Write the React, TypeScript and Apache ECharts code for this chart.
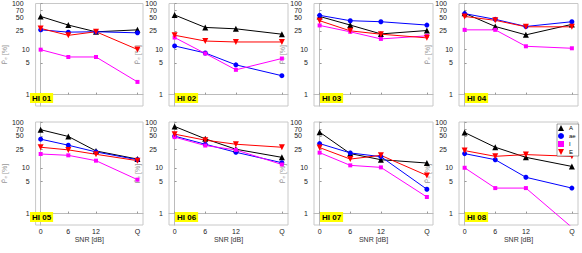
import React, { useEffect, useRef } from 'react';
import * as echarts from 'echarts';

const snrLabels = ['0', '6', '12', 'Q'];
const snrPositions = [0, 6, 12, 21];
const panelNames = ['HI 01', 'HI 02', 'HI 03', 'HI 04', 'HI 05', 'HI 06', 'HI 07', 'HI 08'];
const seriesNames = ['A', 'ae', 'I', 'E'];
const yTickValues = [1, 5, 10, 25, 50, 70, 100];

const valuesA = [
  [52, 33.6, 23.9, 26.4],
  [56, 29.8, 27.8, 21.2],
  [52, 33.6, 21.5, 25.5],
  [61, 31.3, 20.5, 34.8],
  [67.8, 48.3, 23.3, 15.5],
  [80, 42.9, 25.4, 16.9],
  [60, 20.4, 15, 12.7],
  [59, 28.1, 16.9, 10.7],
];
const valuesAe = [
  [26.4, 23.5, 24, 22.7],
  [11.7, 8.2, 4.5, 2.6],
  [55, 41.9, 39.8, 33.6],
  [60, 44.9, 31.3, 39.8],
  [42.2, 31.1, 22.2, 15],
  [49.1, 32.7, 21.8, 12.9],
  [33.8, 21.1, 17.5, 3.4],
  [20.4, 15, 6.2, 3.6],
];
const valuesI = [
  [9.7, 6.7, 6.7, 1.9],
  [17.9, 8, 3.5, 6.2],
  [33, 23.9, 16.7, 19.5],
  [26.4, 26.4, 11.5, 10.4],
  [20, 18.7, 14.3, 5.5],
  [46.7, 30.6, 24.6, 11.8],
  [21.4, 11.3, 10.2, 2.3],
  [10, 3.6, 3.6, 0.5],
];
const valuesE = [
  [28.4, 20, 24, 9.8],
  [20.1, 15, 14.3, 14.3],
  [41.9, 25.1, 21.2, 17.6],
  [52, 42.7, 30.8, 30.8],
  [28.1, 24.6, 19.7, 14.3],
  [54.3, 40.1, 32.7, 28.1],
  [27.6, 15.5, 18.7, 6.8],
  [23.7, 17.8, 19.4, 17.8],
];

const FONT = 'Liberation Sans, Arial, sans-serif';

export default function App() {
  const ref = useRef<HTMLDivElement>(null);
  useEffect(() => {
    if (!ref.current) return;
    const chart = echarts.init(ref.current, null, { renderer: 'svg' });
    const grids: any[] = [];
    const xAxes: any[] = [];
    const yAxes: any[] = [];
    const series: any[] = [];
    const graphics: any[] = [];
    const styles = [
      { data: valuesA, color: '#000000', symbol: 'triangle', size: 6, rotate: 0 },
      { data: valuesAe, color: '#0000ff', symbol: 'circle', size: 5, rotate: 0 },
      { data: valuesI, color: '#ff00ff', symbol: 'rect', size: 4, rotate: 0 },
      { data: valuesE, color: '#ff0000', symbol: 'triangle', size: 6, rotate: 180 },
    ];
    const logTicks = yTickValues.map((v) => Math.log10(v));
    for (let p = 0; p < 8; p++) {
      const row = Math.floor(p / 4);
      const col = p % 4;
      const left = 24 + col * 145;
      const top = row === 0 ? 3 : 122;
      grids.push({
        left,
        top,
        width: 119,
        height: 103,
        show: true,
        borderColor: '#c8c8c8',
        borderWidth: 1,
        backgroundColor: '#ffffff',
      });
      xAxes.push({
        type: 'value',
        gridIndex: p,
        min: -1.1,
        max: 22.2,
        axisLine: { show: true, lineStyle: { color: '#bbbbbb' } },
        axisTick: {
          show: true,
          inside: true,
          length: 2,
          customValues: snrPositions,
          lineStyle: { color: '#999999' },
        },
        axisLabel: {
          show: row === 1,
          customValues: snrPositions,
          formatter: (v: number) => snrLabels[snrPositions.indexOf(v)] ?? '',
          fontSize: 7,
          color: '#222',
          fontFamily: FONT,
          margin: 3,
        },
        splitLine: { show: false },
        name: row === 1 ? 'SNR [dB]' : '',
        nameLocation: 'middle',
        nameGap: 9,
        nameTextStyle: { fontSize: 7, color: '#333', fontFamily: FONT },
      });
      yAxes.push({
        type: 'value',
        gridIndex: p,
        min: -0.25,
        max: 2,
        axisLine: { show: true, lineStyle: { color: '#bbbbbb' } },
        axisTick: {
          show: true,
          inside: true,
          length: 2,
          customValues: logTicks,
          lineStyle: { color: '#999999' },
        },
        axisLabel: {
          customValues: logTicks,
          showMinLabel: true,
          showMaxLabel: true,
          hideOverlap: false,
          formatter: (v: number) => {
            const n = Math.round(Math.pow(10, v));
            return n >= 25 ? `{w|${n}}` : `{n|${n}}`;
          },
          margin: 6,
          rich: {
            w: { fontSize: 7, color: '#222', fontFamily: FONT, padding: [0, 6, 0, 0] },
            n: { fontSize: 7, color: '#222', fontFamily: FONT },
          },
        },
        splitLine: { show: false },
        name: 'P\u0304\u2091 [%]',
        nameLocation: 'middle',
        nameGap: 16,
        nameRotate: 90,
        nameTextStyle: { fontSize: 7, color: '#999999', fontFamily: FONT },
      });
      styles.forEach((s, k) => {
        series.push({
          type: 'line',
          name: seriesNames[k],
          xAxisIndex: p,
          yAxisIndex: p,
          data: s.data[p].map((v, i) => [snrPositions[i], Math.log10(v)]),
          symbol: s.symbol,
          symbolSize: s.size,
          symbolRotate: s.rotate,
          showSymbol: true,
          clip: true,
          lineStyle: { color: s.color, width: 1 },
          itemStyle: { color: s.color },
        });
      });
      graphics.push({
        type: 'text',
        x: left + 6,
        y: top + 90,
        z: 100,
        style: {
          text: panelNames[p],
          fill: '#000',
          font: `bold 8px ${FONT}`,
          backgroundColor: '#ffff00',
          padding: [1, 2, 1, 2],
        },
      });
    }
    chart.setOption({
      animation: false,
      grid: grids,
      xAxis: xAxes,
      yAxis: yAxes,
      series,
      graphic: graphics,
      legend: {
        orient: 'vertical',
        left: 557,
        top: 124,
        itemWidth: 6,
        itemHeight: 6,
        itemGap: 2,
        padding: [1, 3, 1, 1],
        borderColor: '#444',
        borderWidth: 0.5,
        backgroundColor: '#fff',
        textStyle: { fontSize: 6, color: '#000', fontFamily: FONT },
        data: [
          { name: 'A', icon: 'triangle' },
          { name: 'ae', icon: 'circle' },
          { name: 'I', icon: 'rect' },
          { name: 'E', icon: 'path://M0,0 L10,0 L5,10 Z' },
        ],
      },
    });
    return () => chart.dispose();
  }, []);
  return (
    <div
      ref={ref}
      style={{ position: 'absolute', left: 0, top: 0, width: 582, height: 253 }}
    />
  );
}
